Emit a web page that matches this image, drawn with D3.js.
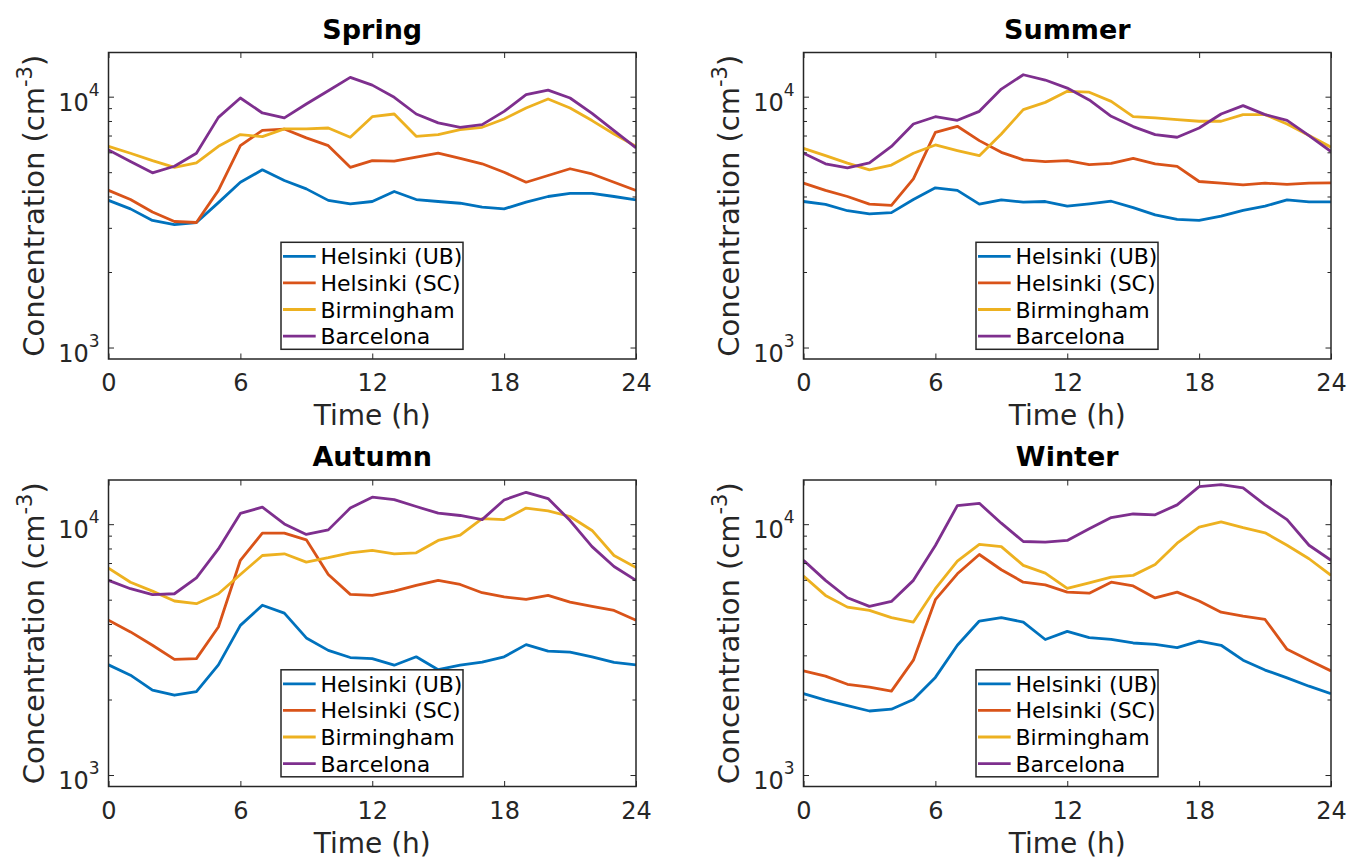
<!DOCTYPE html>
<html>
<head>
<meta charset="utf-8">
<script src="https://cdn.jsdelivr.net/npm/d3@7"></script>
<style>
  body { margin: 0; background: #fff; }
  text { font-family: "DejaVu Sans", sans-serif; }
</style>
</head>
<body>
<svg id="chart" width="1349" height="858"></svg>
<script>
const hours = [0, 1, 2, 3, 4, 5, 6, 7, 8, 9, 10, 11, 12, 13, 14, 15, 16, 17, 18, 19, 20, 21, 22, 23, 24];
const seasons = ['Spring', 'Summer', 'Autumn', 'Winter'];
const sites = ['Helsinki (UB)', 'Helsinki (SC)', 'Birmingham', 'Barcelona'];
const colors = ['#0072BD', '#D95319', '#EDB120', '#7E2F8E'];
const xTicks = [0, 6, 12, 18, 24];
const yMajor = [1000, 10000];
const yMinor = [2000, 3000, 4000, 5000, 6000, 7000, 8000, 9000];

const springUB = [3860, 3570, 3210, 3090, 3150, 3780, 4560, 5110, 4630, 4290, 3860, 3740, 3820, 4190, 3890, 3820, 3760, 3630, 3570, 3800, 4000, 4120, 4120, 4000, 3880];
const springSC = [4230, 3890, 3470, 3180, 3150, 4230, 6380, 7340, 7430, 6850, 6380, 5230, 5560, 5530, 5740, 5950, 5680, 5400, 5000, 4560, 4850, 5160, 4920, 4560, 4230];
const springBH = [6340, 5950, 5560, 5230, 5450, 6340, 7060, 6930, 7440, 7440, 7500, 6890, 8320, 8530, 6950, 7060, 7390, 7550, 8150, 9010, 9790, 9010, 8030, 7100, 6340];
const springBCN = [6130, 5510, 4970, 5280, 5950, 8270, 9880, 8610, 8230, 9350, 10560, 11940, 11120, 9940, 8530, 7860, 7550, 7740, 8740, 10180, 10620, 9880, 8580, 7320, 6250];

const summerUB = [3820, 3720, 3510, 3410, 3450, 3890, 4330, 4230, 3730, 3880, 3800, 3820, 3660, 3740, 3830, 3610, 3380, 3240, 3210, 3340, 3520, 3660, 3880, 3810, 3810];
const summerSC = [4520, 4230, 4000, 3730, 3690, 4700, 7210, 7620, 6680, 6000, 5600, 5510, 5560, 5360, 5420, 5680, 5400, 5270, 4590, 4520, 4450, 4520, 4470, 4520, 4530];
const summerBH = [6220, 5820, 5430, 5110, 5340, 5950, 6420, 6100, 5820, 7100, 8880, 9490, 10500, 10420, 9580, 8320, 8230, 8100, 7980, 7980, 8480, 8480, 7780, 7000, 6290];
const summerBCN = [5950, 5400, 5200, 5450, 6330, 7780, 8320, 8050, 8740, 10720, 12230, 11650, 10820, 9700, 8350, 7600, 7060, 6890, 7500, 8530, 9210, 8480, 8050, 7000, 6040];

const autumnUB = [2750, 2500, 2180, 2080, 2150, 2750, 3950, 4750, 4420, 3520, 3140, 2940, 2910, 2740, 2960, 2630, 2740, 2820, 2960, 3310, 3120, 3090, 2960, 2810, 2750];
const autumnSC = [4140, 3720, 3290, 2890, 2910, 3890, 7180, 9210, 9210, 8660, 6300, 5250, 5200, 5410, 5700, 5970, 5750, 5330, 5130, 5010, 5200, 4890, 4700, 4530, 4140];
const autumnBH = [6680, 5870, 5410, 4940, 4820, 5280, 6300, 7500, 7620, 7060, 7350, 7690, 7860, 7620, 7690, 8610, 9040, 10530, 10430, 11590, 11300, 10730, 9440, 7500, 6710];
const autumnBCN = [5970, 5530, 5240, 5280, 6110, 7970, 11040, 11690, 10020, 9100, 9490, 11590, 12810, 12530, 11760, 11060, 10830, 10430, 12490, 13400, 12650, 10340, 8140, 6780, 5970];

const winterUB = [2110, 1990, 1890, 1800, 1830, 2000, 2450, 3290, 4110, 4240, 4070, 3470, 3740, 3530, 3470, 3360, 3320, 3220, 3420, 3290, 2870, 2620, 2440, 2260, 2110];
const winterSC = [2600, 2480, 2300, 2240, 2160, 2870, 5000, 6340, 7570, 6580, 5870, 5730, 5360, 5310, 5870, 5670, 5080, 5360, 4940, 4460, 4300, 4170, 3170, 2870, 2600];
const winterBH = [6210, 5200, 4670, 4530, 4240, 4070, 5530, 7120, 8300, 8140, 6850, 6380, 5550, 5840, 6150, 6250, 6910, 8400, 9730, 10210, 9680, 9240, 8240, 7280, 6250];
const winterBCN = [7180, 5970, 5090, 4700, 4920, 5970, 8220, 11860, 12110, 10090, 8530, 8480, 8610, 9580, 10630, 10980, 10900, 11940, 14120, 14370, 13960, 11940, 10430, 8240, 7180];

const seasonData = [
  [springUB, springSC, springBH, springBCN],
  [summerUB, summerSC, summerBH, summerBCN],
  [autumnUB, autumnSC, autumnBH, autumnBCN],
  [winterUB, winterSC, winterBH, winterBCN],
];

const W = 527.5, H = 306.5;
const origins = [[108.5, 52.5], [803.5, 52.5], [108.5, 480], [803.5, 480]];
const ink = '#262626';

const x = d3.scaleLinear().domain([0, 24]).range([0, W]);
const y = d3.scaleLog().domain([900, 15000]).range([H, 0]);

const line = d3.line()
  .x(d => x(d[0]))
  .y(d => y(d[1]));

const svg = d3.select('#chart');

function styleAxis(g) {
  g.select('.domain').remove();
  g.selectAll('.tick line').attr('stroke', ink).attr('stroke-width', 1);
  g.selectAll('text').attr('fill', ink).style('font-family', '"DejaVu Sans", sans-serif');
}

seasons.forEach((season, i) => {
  const [ox, oy] = origins[i];
  const g = svg.append('g').attr('transform', `translate(${ox},${oy})`);

  g.append('clipPath').attr('id', `clip${i}`)
    .append('rect').attr('width', W).attr('height', H);

  // lines
  const rows = seasonData[i];
  g.append('g').attr('clip-path', `url(#clip${i})`)
    .selectAll('path')
    .data(rows)
    .join('path')
    .attr('fill', 'none')
    .attr('stroke', (d, k) => colors[k])
    .attr('stroke-width', 2.8)
    .attr('stroke-linejoin', 'round')
    .attr('d', vals => line(hours.map((h, j) => [h, vals[j]])));

  // x axes (bottom with labels, top ticks only)
  g.append('g')
    .attr('transform', `translate(0,${H})`)
    .call(d3.axisBottom(x).tickValues(xTicks).tickSize(-5.5).tickPadding(15).tickFormat(d3.format('d')))
    .call(styleAxis)
    .selectAll('text').attr('font-size', 24);
  g.append('g')
    .call(d3.axisTop(x).tickValues(xTicks).tickSize(-5.5).tickFormat(''))
    .call(styleAxis);

  // y axes: majors and minors, both sides
  g.append('g').call(d3.axisLeft(y).tickValues(yMajor).tickSize(-5.5).tickFormat('')).call(styleAxis);
  g.append('g').call(d3.axisLeft(y).tickValues(yMinor).tickSize(-3.5).tickFormat('')).call(styleAxis);
  g.append('g').attr('transform', `translate(${W},0)`)
    .call(d3.axisRight(y).tickValues(yMajor).tickSize(-5.5).tickFormat('')).call(styleAxis);
  g.append('g').attr('transform', `translate(${W},0)`)
    .call(d3.axisRight(y).tickValues(yMinor).tickSize(-3.5).tickFormat('')).call(styleAxis);

  // y tick labels 10^n
  yMajor.forEach(v => {
    const t = g.append('text')
      .attr('x', -9)
      .attr('y', y(v) + 14)
      .attr('text-anchor', 'end')
      .attr('font-size', 24)
      .attr('fill', ink);
    t.append('tspan').text('10');
    t.append('tspan').attr('font-size', 17).attr('dy', -15).text(Math.round(Math.log10(v)));
  });

  // box
  g.append('rect')
    .attr('width', W).attr('height', H)
    .attr('fill', 'none')
    .attr('stroke', ink)
    .attr('stroke-width', 1.5);

  // title
  g.append('text')
    .attr('x', W / 2).attr('y', -14)
    .attr('text-anchor', 'middle')
    .attr('font-size', 27)
    .attr('font-weight', 'bold')
    .attr('fill', '#000')
    .text(season);

  // x label
  g.append('text')
    .attr('x', W / 2).attr('y', H + 66)
    .attr('text-anchor', 'middle')
    .attr('font-size', 28)
    .attr('fill', ink)
    .text('Time (h)');

  // y label
  const yl = g.append('text')
    .attr('transform', `translate(-65,${H / 2}) rotate(-90)`)
    .attr('text-anchor', 'middle')
    .attr('font-size', 29)
    .attr('fill', ink);
  yl.append('tspan').text('Concentration (cm');
  yl.append('tspan').attr('font-size', 21).attr('dy', -12).text('-3');
  yl.append('tspan').attr('dy', 12).text(')');

  // legend
  const lg = g.append('g').attr('transform', 'translate(172.5,189.8)');
  lg.append('rect')
    .attr('width', 182).attr('height', 107)
    .attr('fill', '#fff')
    .attr('stroke', ink)
    .attr('stroke-width', 1.5);
  const item = lg.selectAll('g.item')
    .data(sites)
    .join('g')
    .attr('class', 'item')
    .attr('transform', (d, k) => `translate(0,${14 + k * 26.6})`);
  item.append('line')
    .attr('x1', 2).attr('x2', 34.7)
    .attr('stroke', (d, k) => colors[k])
    .attr('stroke-width', 2.8);
  item.append('text')
    .attr('x', 39.5).attr('y', 8)
    .attr('font-size', 22)
    .attr('fill', '#000')
    .text(d => d);
});
</script>
</body>
</html>
